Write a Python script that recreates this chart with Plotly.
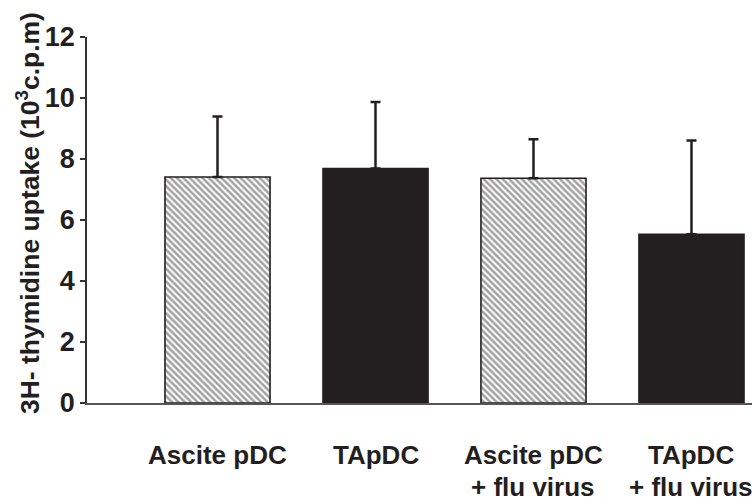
import plotly.graph_objects as go

categories = ["Ascite pDC", "TApDC", "Ascite pDC", "TApDC"]
category_suffix = ["", "", "+ flu virus", "+ flu virus"]
means = [7.41, 7.69, 7.37, 5.53]
errors_up = [1.98, 2.18, 1.28, 3.08]
y_ticks = [0, 2, 4, 6, 8, 10, 12]
y_title = "3H- thymidine uptake (10<sup>3</sup>c.p.m)"

DARK = "#231f20"
xpos = list(range(len(categories)))

fig = go.Figure()
fig.add_trace(go.Bar(
    x=xpos,
    y=means,
    width=0.665,
    marker=dict(
        color=["white", DARK, "white", DARK],
        line=dict(color=DARK, width=1.6),
        pattern=dict(shape=["\\", "", "\\", ""], fgcolor="#1e1e1e",
                     size=4.5, solidity=0.55),
    ),
    error_y=dict(type="data", symmetric=False, array=errors_up,
                 arrayminus=[0] * len(means), color=DARK, thickness=2.5, width=5),
    showlegend=False,
))

font_family = "Liberation Sans, Arial, sans-serif"
label_font = dict(size=26, family=font_family, color=DARK, weight="bold")

annotations = []
for xi, line1, line2 in zip(xpos, categories, category_suffix):
    annotations.append(dict(x=xi, xref="x", y=0, yref="paper", yshift=-52,
                            yanchor="middle", xanchor="center", showarrow=False,
                            text=line1, font=label_font))
    if line2:
        annotations.append(dict(x=xi, xref="x", y=0, yref="paper", yshift=-84,
                                yanchor="middle", xanchor="center", showarrow=False,
                                text=line2, font=label_font))

# y-axis title
annotations.append(dict(x=-0.0887, xref="paper", y=0.519, yref="paper",
                        xanchor="center", yanchor="middle", textangle=-90,
                        showarrow=False, text=y_title,
                        font=dict(size=26.5, family=font_family, color=DARK, weight="bold")))

fig.update_layout(
    width=755, height=498,
    margin=dict(l=87, r=3, t=37, b=95, autoexpand=False),
    paper_bgcolor="white", plot_bgcolor="white",
    font=dict(family=font_family, color=DARK, weight="bold"),
    annotations=annotations,
    xaxis=dict(
        range=[-0.826, 3.383],
        tickvals=xpos, showticklabels=False,
        showgrid=False, zeroline=False, automargin=False,
        showline=True, linecolor="#555555", linewidth=1.5,
        ticks="",
    ),
    yaxis=dict(
        range=[0, 12],
        tickvals=y_ticks, automargin=False,
        tickfont=dict(size=27, family=font_family, color=DARK, weight="bold"),
        showgrid=False, zeroline=False,
        showline=True, linecolor="#333333", linewidth=1.5,
        ticks="outside", ticklen=5, tickwidth=1.5, tickcolor="#333333",
    ),
)

fig.write_html(
    "out.html",
    config={"displayModeBar": False},
    post_script="document.body.style.margin='0';document.body.style.padding='0';",
)
